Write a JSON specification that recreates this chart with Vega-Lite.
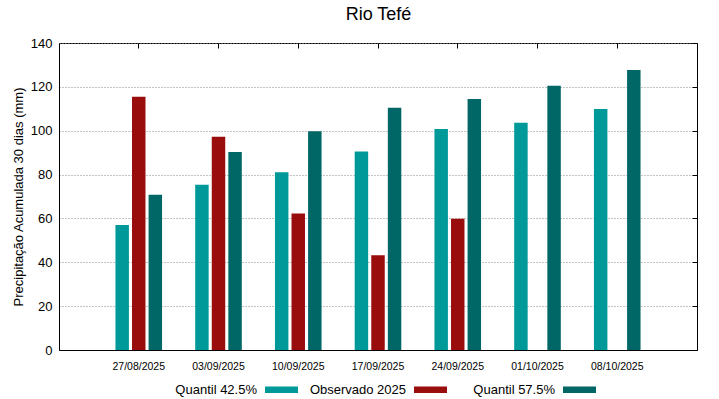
{
  "$schema": "https://vega.github.io/schema/vega-lite/v6.json",
  "width": 638,
  "height": 307,
  "autosize": "none",
  "padding": {"left": 59, "top": 43, "right": 22, "bottom": 49},
  "background": "white",
  "config": {
    "font": "Liberation Sans",
    "view": {"stroke": "black", "strokeWidth": 1},
    "axis": {"labelColor": "black", "titleColor": "black", "domainColor": "black", "tickColor": "black", "labelFont": "Liberation Sans", "titleFont": "Liberation Sans"}
  },
  "data": {
    "values": [
      {"data": "27/08/2025", "serie": "Quantil 42.5%", "valor": 57.0},
      {"data": "27/08/2025", "serie": "Observado 2025", "valor": 115.5},
      {"data": "27/08/2025", "serie": "Quantil 57.5%", "valor": 70.8},
      {"data": "03/09/2025", "serie": "Quantil 42.5%", "valor": 75.4},
      {"data": "03/09/2025", "serie": "Observado 2025", "valor": 97.3},
      {"data": "03/09/2025", "serie": "Quantil 57.5%", "valor": 90.3},
      {"data": "10/09/2025", "serie": "Quantil 42.5%", "valor": 81.1},
      {"data": "10/09/2025", "serie": "Observado 2025", "valor": 62.3},
      {"data": "10/09/2025", "serie": "Quantil 57.5%", "valor": 99.8},
      {"data": "17/09/2025", "serie": "Quantil 42.5%", "valor": 90.5},
      {"data": "17/09/2025", "serie": "Observado 2025", "valor": 43.2},
      {"data": "17/09/2025", "serie": "Quantil 57.5%", "valor": 110.5},
      {"data": "24/09/2025", "serie": "Quantil 42.5%", "valor": 100.8},
      {"data": "24/09/2025", "serie": "Observado 2025", "valor": 59.8},
      {"data": "24/09/2025", "serie": "Quantil 57.5%", "valor": 114.5},
      {"data": "01/10/2025", "serie": "Quantil 42.5%", "valor": 103.6},
      {"data": "01/10/2025", "serie": "Quantil 57.5%", "valor": 120.5},
      {"data": "08/10/2025", "serie": "Quantil 42.5%", "valor": 109.9},
      {"data": "08/10/2025", "serie": "Quantil 57.5%", "valor": 127.7}
    ]
  },
  "layer": [
    {
      "mark": {"type": "bar"},
      "encoding": {
        "x": {
          "field": "data", "type": "nominal", "sort": null,
          "scale": {"paddingInner": 0, "paddingOuter": 0.5},
          "axis": {"orient": "bottom", "title": null, "labelAngle": 0, "ticks": false, "labelFontSize": 10.5, "labelPadding": 11, "grid": false}
        },
        "xOffset": {
          "field": "serie", "type": "nominal",
          "sort": ["Quantil 42.5%", "Observado 2025", "Quantil 57.5%"],
          "scale": {"domain": ["Quantil 42.5%", "Observado 2025", "Quantil 57.5%"], "paddingInner": 0.1875, "paddingOuter": 1.09375}
        },
        "y": {
          "field": "valor", "type": "quantitative",
          "scale": {"domain": [0, 140], "nice": false},
          "axis": {"title": "Precipitação Acumulada 30 dias (mm)", "values": [0, 20, 40, 60, 80, 100, 120, 140], "grid": true, "gridDash": [1, 2], "gridColor": "#888888", "gridOpacity": 1, "ticks": false, "labelFontSize": 13, "labelPadding": 7, "titleFontSize": 13, "titleFontWeight": "normal", "titlePadding": 5}
        },
        "color": {
          "field": "serie", "type": "nominal",
          "scale": {"domain": ["Quantil 42.5%", "Observado 2025", "Quantil 57.5%"], "range": ["#009999", "#990d0d", "#006666"]},
          "legend": {
            "orient": "none", "legendX": 206, "legendY": 330, "direction": "horizontal", "title": null,
            "columns": 3, "gridAlign": "all", "columnPadding": 11,
            "symbolType": "M-1,-0.2L1,-0.2L1,0.2L-1,0.2Z", "symbolSize": 1089, "symbolStrokeWidth": 0,
            "labelFontSize": 13, "labelColor": "black", "labelAlign": "right", "labelOffset": -41, "labelLimit": 300
          }
        }
      }
    },
    {
      "mark": {"type": "bar", "opacity": 0},
      "encoding": {
        "x": {
          "field": "data", "type": "nominal", "sort": null,
          "axis": {"orient": "top", "title": "Rio Tefé", "titleFontSize": 18, "titleFontWeight": "normal", "titlePadding": 20, "labels": false, "ticks": true, "tickSize": -5, "domain": false, "grid": false, "minExtent": 0, "maxExtent": 0}
        },
        "y": {
          "field": "valor", "type": "quantitative",
          "axis": {"orient": "right", "title": null, "labels": false, "ticks": true, "tickSize": -5, "domain": false, "grid": false, "minExtent": 0, "maxExtent": 0, "values": [0, 20, 40, 60, 80, 100, 120, 140]}
        }
      }
    }
  ],
  "resolve": {"axis": {"x": "independent", "y": "independent"}}
}
